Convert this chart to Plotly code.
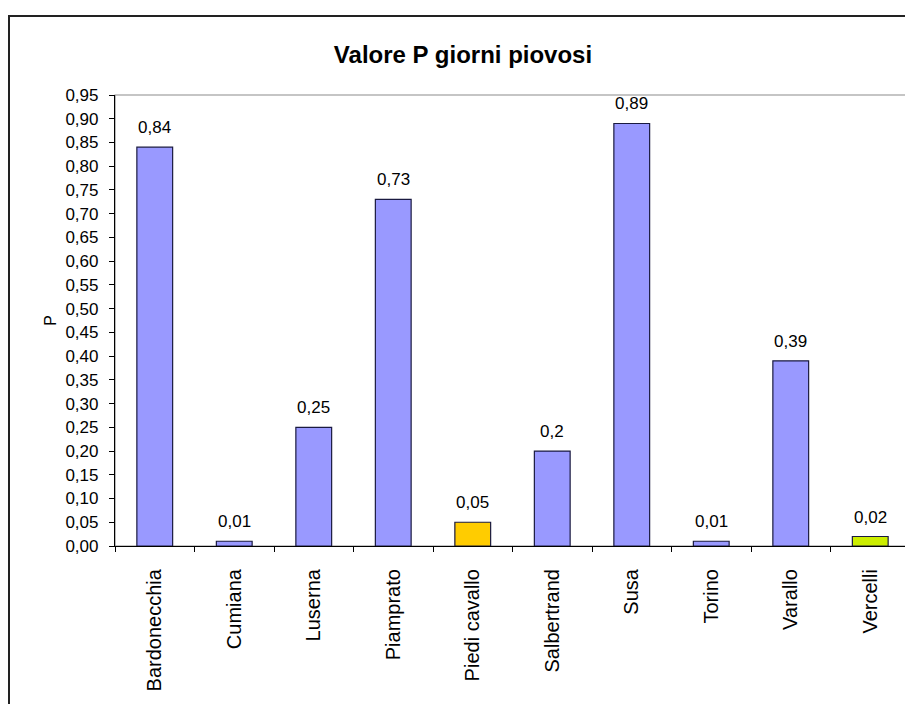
import plotly.graph_objects as go

stations = ["Bardonecchia", "Cumiana", "Luserna", "Piamprato", "Piedi cavallo",
            "Salbertrand", "Susa", "Torino", "Varallo", "Vercelli"]
p_values = [0.84, 0.01, 0.25, 0.73, 0.05, 0.20, 0.89, 0.01, 0.39, 0.02]
bar_colors = ["#9999ff", "#9999ff", "#9999ff", "#9999ff", "#ffcc00",
              "#9999ff", "#9999ff", "#9999ff", "#9999ff", "#ccee00"]
y_ticks = [round(i * 0.05, 2) for i in range(20)]

# page has an 8px body margin, so the figure is drawn 8px smaller
W, H = 905, 696
L, R, T, B = 107, 3, 87, 158
FONT = "Liberation Sans, Arial, sans-serif"

fig = go.Figure(
    go.Bar(
        x=stations,
        y=p_values,
        marker=dict(color=bar_colors, line=dict(color="#1a1a40", width=1.2)),
        width=0.45,
        hoverinfo="x+y",
    )
)

# value labels above the bars
annotations = [
    dict(x=s, y=v, text=str(v).replace(".", ","), showarrow=False,
         yanchor="bottom", yshift=8, font=dict(size=17, color="#000"))
    for s, v in zip(stations, p_values)
]

pw, ph = W - L - R, H - T - B
shapes = [
    # plot area border (grey)
    dict(type="rect", xref="paper", yref="paper", x0=0, x1=1, y0=0, y1=1,
         line=dict(color="#8c8c8c", width=1.2), layer="below"),
    # outer chart frame, runs off the right and bottom
    dict(type="rect", xref="paper", yref="paper",
         x0=(1 - L) / pw, x1=(W + 20 - L) / pw,
         y0=-(H + 20 - T - ph) / ph, y1=(T + ph - 8) / ph,
         line=dict(color="#222", width=2)),
]

fig.update_layout(
    width=W,
    height=H,
    margin=dict(l=L, r=R, t=T, b=B),
    paper_bgcolor="white",
    plot_bgcolor="rgba(0,0,0,0)",
    separators=",.",
    showlegend=False,
    font=dict(family=FONT, size=16, color="#000"),
    title=dict(text="<b>Valore P giorni piovosi</b>", x=455 / W, xanchor="center",
               xref="container", y=1 - 47 / H, yref="container", yanchor="middle",
               font=dict(size=24, family=FONT)),
    xaxis=dict(
        type="category",
        showline=True, linecolor="#000", linewidth=1.2,
        ticks="outside", tickson="boundaries", ticklen=5, tickcolor="#000",
        tickangle=-90, tickfont=dict(size=20), ticklabelstandoff=14,
        showgrid=False, zeroline=False,
    ),
    yaxis=dict(
        range=[0, 0.95],
        tickvals=y_ticks, tickformat=".2f",
        showline=True, linecolor="#000", linewidth=1.2,
        ticks="outside", ticklen=5, tickcolor="#000",
        tickfont=dict(size=17), ticklabelstandoff=7,
        showgrid=False, zeroline=False,
        title=dict(text="P", standoff=4, font=dict(size=16)),
    ),
    annotations=annotations,
    shapes=shapes,
)

fig.write_html("out.html")
